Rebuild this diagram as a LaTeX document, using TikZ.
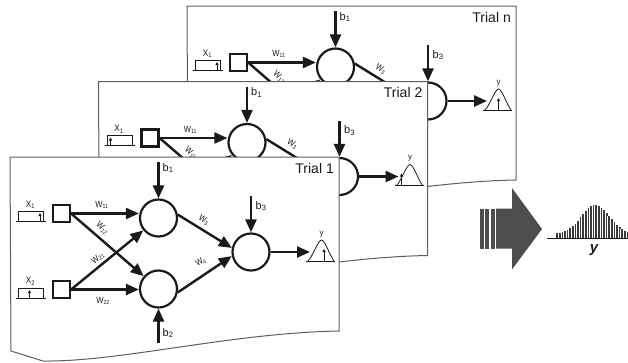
\documentclass[tikz,border=0pt]{standalone}
\usepackage{fontspec}
\setmainfont{Liberation Sans}
\newfontfamily\narrowfont[FakeStretch=0.85]{Liberation Sans}
\usetikzlibrary{arrows.meta}
\definecolor{ink}{HTML}{1A1A1A}
\definecolor{sheetline}{HTML}{5E5E5E}
\definecolor{bigarrow}{HTML}{4D4D4D}
\definecolor{histc}{HTML}{3A3A3A}
\tikzset{
  neuron/.style={circle, draw=ink, line width=2.2pt, minimum size=37pt, inner sep=0pt, fill=white},
  inbox/.style={rectangle, draw=ink, line width=2.2pt, minimum size=17pt, inner sep=0pt, fill=white},
  conn/.style={draw=ink, line width=2.4pt, -{Triangle[length=13pt,width=11pt]}},
  sheetbox/.style={draw=sheetline, line width=1pt, fill=white},
  wlab/.style={font=\narrowfont\fontsize{9}{9}\selectfont, inner sep=0pt, text=ink},
  blab/.style={font=\fontsize{11}{11}\selectfont, inner sep=0pt, anchor=west, text=ink},
  xlab/.style={font=\narrowfont\fontsize{9.5}{9.5}\selectfont, inner sep=0pt, text=ink},
  triallab/.style={font=\fontsize{14}{14}\selectfont, inner sep=0pt, anchor=east, text=ink},
  icon/.style={draw=ink, line width=0.8pt},
  iconarr/.style={draw=ink, line width=0.8pt, -{Triangle[length=3pt,width=3pt]}},
}
\newif\iffrontsheet
\newcommand\drawsheet{%
  \path[sheetbox] (10,157) -- (339,157) -- (339,331)
    .. controls (230,333) and (120,362) .. (43,361) -- (11,351) -- cycle;}
% #1 prefix, #2 trial text, #3 x1 arrow x, #4 y arrow x
\newcommand\trialcontent[4]{%
  \node[triallab] (#1trial) at (334,168) {#2};
  \node[inbox] (#1i1) at (61.5,213.5) {};
  \node[inbox] (#1i2) at (61.5,289.5) {};
  \node[neuron] (#1h1) at (158.5,218) {};
  \node[neuron] (#1h2) at (158.5,289) {};
  \node[neuron] (#1o) at (251,252) {};
  \coordinate (#1b1) at (158.5,162);
  \coordinate (#1b2) at (158.5,343);
  \coordinate (#1b3) at (251,196);
  \coordinate (#1y) at (310,252);
  \draw[conn] (#1b1) -- (#1h1);
  \draw[conn] (#1b2) -- (#1h2);
  \draw[conn] (#1b3) -- (#1o);
  \draw[conn] (#1i1.east) -- (#1i1.east -| #1h1.west);
  \draw[conn] (#1i2.east) -- (#1i2.east -| #1h2.west);
  \draw[conn] (#1i1.east) -- (#1h2);
  \draw[conn] (#1i2.east) -- (#1h1);
  \draw[conn] (#1h1.10) -- (#1o.168);
  \draw[conn] (#1h2.-10) -- (#1o.-168);
  \draw[conn] (#1o) -- (#1y);
  \node[blab] (#1lb1) at (162.5,168) {b\textsubscript{1}};
  \node[blab] (#1lb3) at (255.5,206) {b\textsubscript{3}};
  \node[wlab] (#1lw11) at (102,205) {W\textsubscript{11}};
  \node[wlab, rotate=-42] (#1lw12) at (102.5,228.5) {W\textsubscript{12}};
  \node[wlab, rotate=-32] (#1lw3) at (204,220) {W\textsubscript{3}};
  \iffrontsheet
    \node[blab] (#1lb2) at (162.5,333) {b\textsubscript{2}};
    \node[wlab] (#1lw22) at (103,300.5) {W\textsubscript{22}};
    \node[wlab, rotate=37] (#1lw21) at (98,258) {W\textsubscript{21}};
    \node[wlab, rotate=30] (#1lw4) at (201,262) {W\textsubscript{4}};
    \node[xlab] (#1lx2) at (30.5,281) {X\textsubscript{2}};
  \fi
  % input icons
  \draw[icon] (16,221) -- (46,221);
  \draw[icon] (18.5,221) -- (18.5,211) -- (43.5,211) -- (43.5,221);
  \draw[iconarr] (#3,221) -- (#3,213);
  \node[xlab] (#1lx1) at (30.5,204.5) {X\textsubscript{1}};
  \draw[icon] (16,298) -- (46,298);
  \draw[icon] (18.5,298) -- (18.5,288) -- (43.5,288) -- (43.5,298);
  \draw[iconarr] (29.5,298) -- (29.5,290);
  % output icon
  \draw[icon] (306,261) -- (335,261);
  \draw[icon] (308,261) .. controls (313,256) and (318,240) .. (321.5,240)
     .. controls (325,240) and (330,256) .. (334,261);
  \draw[iconarr] (#4,261) -- (#4,249);
  \node[xlab, font=\fontsize{8}{8}\selectfont] (#1ly) at (321.5,234) {y};
}
\begin{document}
\begin{tikzpicture}[x=1pt,y=-1pt]
\useasboundingbox (0,0) rectangle (628,362);
\frontsheetfalse
\begin{scope}[shift={(177,-151)}]
  \drawsheet
  \trialcontent{N}{Trial n}{40}{321.5}
\end{scope}
\begin{scope}[shift={(88.5,-75.5)}]
  \drawsheet
  \trialcontent{T}{Trial 2}{22}{313}
\end{scope}
\frontsheettrue
\drawsheet
\trialcontent{O}{Trial 1}{40}{324}
% big arrow
\fill[bigarrow] (480,208.5) rectangle (483.5,248.5);
\fill[bigarrow] (485,208.5) rectangle (489,248.5);
\fill[bigarrow] (490.5,208.5) rectangle (494.5,248.5);
\fill[bigarrow] (496,208.5) -- (512,208.5) -- (512,188) -- (542,229)
   -- (512,269.5) -- (512,248.5) -- (496,248.5) -- cycle;
% histogram
\foreach \i in {0,...,27} {
  \pgfmathsetmacro\xx{555.5+2.6*\i}
  \pgfmathsetmacro\dd{\xx+1.3-595}
  \pgfmathsetmacro\hh{29*exp(-(\dd*\dd)/392)+4}
  \fill[histc] (\xx,238) rectangle ++(2.6,-\hh);
  \draw[white, line width=0.4pt] (\xx,238) -- ++(0,-\hh);
}
\draw[ink, line width=0.8pt] (547,238.5) -- (628,238.5);
\node[font=\bfseries\itshape\fontsize{15}{15}\selectfont, inner sep=0pt, text=ink] (ylab) at (594,250) {y};
\end{tikzpicture}
\end{document}
